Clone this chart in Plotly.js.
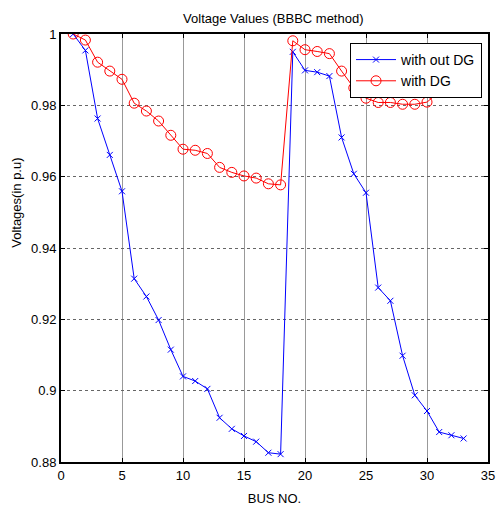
<!DOCTYPE html>
<html>
<head>
<meta charset="utf-8">
<script src="https://cdn.plot.ly/plotly-3.0.1.min.js"></script>
<style>html,body{margin:0;padding:0;background:#fff;}#chart{width:496px;height:506px;}</style>
</head>
<body>
<div id="chart"></div>
<script>
const buses = [1,2,3,4,5,6,7,8,9,10,11,12,13,14,15,16,17,18,19,20,21,22,23,24,25,26,27,28,29,30,31,32,33];
const withoutDG = [1.0000,0.9954,0.9763,0.9661,0.9559,0.9314,0.9264,0.9198,0.9115,0.9040,0.9027,0.9005,0.8924,0.8893,0.8873,0.8857,0.8826,0.8822,0.9950,0.9898,0.9893,0.9882,0.9710,0.9608,0.9555,0.9289,0.9252,0.9098,0.8987,0.8943,0.8884,0.8875,0.8866];
const withDG = [1.0000,0.9983,0.9921,0.9896,0.9873,0.9806,0.9784,0.9756,0.9716,0.9677,0.9674,0.9665,0.9626,0.9612,0.9602,0.9596,0.9580,0.9577,0.9981,0.9956,0.9951,0.9945,0.9896,0.9849,0.9820,0.9808,0.9808,0.9803,0.9803,0.9809,0.9838,0.9840,0.9842];
const xTicks = [0,5,10,15,20,25,30,35];
const yTicks = [0.88,0.90,0.92,0.94,0.96,0.98,1.00];
const yTickText = ['0.88','0.9','0.92','0.94','0.96','0.98','1'];

const font = 'Liberation Sans, Arial, sans-serif';

const traces = [
  {x: buses, y: withoutDG, name: 'with out DG', mode: 'lines+markers', type: 'scatter',
   line: {color: '#0000ff', width: 1}, marker: {symbol: 'x-thin-open', size: 6, color: '#0000ff', line: {color: '#0000ff', width: 1}}},
  {x: buses, y: withDG, name: 'with DG', mode: 'lines+markers', type: 'scatter',
   line: {color: '#ff0000', width: 1}, marker: {symbol: 'circle-open', size: 10, color: '#ff0000', line: {color: '#ff0000', width: 1}}}
];

const layout = {
  width: 496, height: 506,
  margin: {l: 61, r: 8, t: 34, b: 44},
  paper_bgcolor: '#fff', plot_bgcolor: '#fff',
  font: {family: font, size: 13, color: '#000'},
  title: {text: 'Voltage Values (BBBC method)', x: 0.551, xanchor: 'center', y: 0.963, yanchor: 'middle', font: {family: font, size: 13, color: '#000'}},
  xaxis: {
    range: [0, 35], tickvals: xTicks, ticktext: xTicks.map(String),
    showline: true, linecolor: '#000', linewidth: 2, mirror: 'ticks',
    ticks: 'inside', ticklen: 4, tickcolor: '#000', ticklabeloverflow: 'allow',
    showgrid: true, gridcolor: '#999', gridwidth: 1, zeroline: false,
    tickfont: {family: font, size: 13},
    title: {text: 'BUS NO.', font: {family: font, size: 13}, standoff: 12}
  },
  yaxis: {
    range: [0.88, 1.0], tickvals: yTicks, ticktext: yTickText,
    showline: true, linecolor: '#000', linewidth: 2, mirror: 'ticks',
    ticks: 'inside', ticklen: 4, tickcolor: '#000',
    showgrid: true, gridcolor: '#666', gridwidth: 1, griddash: 'dot', zeroline: false,
    tickfont: {family: font, size: 13}
  },
  annotations: [{
    text: 'Voltages(in p.u)', textangle: -90, showarrow: false,
    xref: 'paper', yref: 'paper', x: -0.106, y: 0.605, xanchor: 'center', yanchor: 'middle',
    font: {family: font, size: 13, color: '#000'}
  }],
  legend: {x: 0.986, y: 0.979, xanchor: 'right', yanchor: 'top', bgcolor: '#fff', bordercolor: '#000', borderwidth: 1,
    font: {family: font, size: 14}, itemwidth: 40, tracegroupgap: 0},
  showlegend: true
};

Plotly.newPlot('chart', traces, layout, {staticPlot: true, displayModeBar: false});
</script>
</body>
</html>
